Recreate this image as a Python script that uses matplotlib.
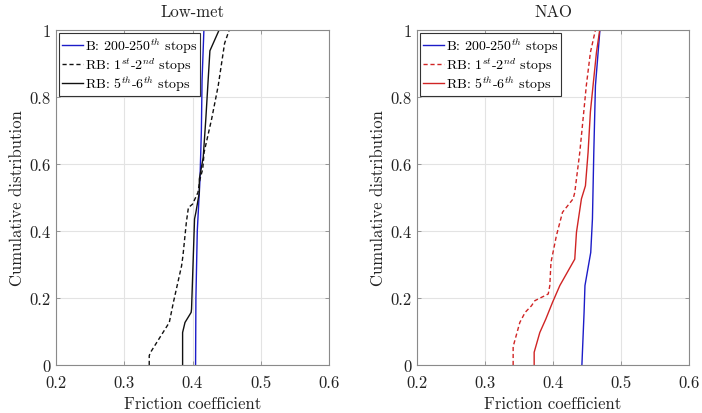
import matplotlib
matplotlib.use("Agg")
import matplotlib.pyplot as plt

plt.rcParams['font.family'] = ['cmr10']
plt.rcParams['mathtext.fontset'] = 'cm'
plt.rcParams['axes.formatter.use_mathtext'] = True

# ---------------- data ----------------
titles = ["Low-met", "NAO"]
labels = ["B: 200-250$^{th}$ stops", "RB: 1$^{st}$-2$^{nd}$ stops", "RB: 5$^{th}$-6$^{th}$ stops"]
xticks = [0.2, 0.3, 0.4, 0.5, 0.6]
xticklabels = ["0.2", "0.3", "0.4", "0.5", "0.6"]
yticks = [0, 0.2, 0.4, 0.6, 0.8, 1.0]
yticklabels = ["0", "0.2", "0.4", "0.6", "0.8", "1"]

# Low-met
lm_b_x = [0.4045, 0.405, 0.407, 0.411, 0.413, 0.414, 0.4167]
lm_b_y = [0.0, 0.2, 0.4, 0.555, 0.7, 0.85, 1.0]
lm_rb12_x = [0.3366, 0.3366, 0.3386, 0.366, 0.372, 0.384, 0.386, 0.391, 0.394, 0.400, 0.408,
             0.411, 0.415, 0.417, 0.428, 0.4377, 0.445, 0.447, 0.4538]
lm_rb12_y = [0.0, 0.028, 0.038, 0.127, 0.187, 0.296, 0.326, 0.426, 0.47, 0.48, 0.515,
             0.555, 0.585, 0.635, 0.734, 0.834, 0.933, 0.96, 1.0]
lm_rb56_x = [0.3855, 0.3855, 0.389, 0.398, 0.3986, 0.403, 0.405, 0.41, 0.41, 0.4157, 0.4195, 0.4255, 0.439]
lm_rb56_y = [0.0, 0.097, 0.127, 0.157, 0.167, 0.436, 0.456, 0.515, 0.555, 0.62, 0.734, 0.938, 1.0]

# NAO
nao_b_x = [0.4425, 0.4457, 0.447, 0.4555, 0.458, 0.46, 0.4624, 0.469]
nao_b_y = [0.0, 0.157, 0.237, 0.336, 0.436, 0.635, 0.834, 1.0]
nao_rb12_x = [0.3414, 0.3414, 0.3425, 0.3512, 0.359, 0.3684, 0.3733, 0.393, 0.3953, 0.397, 0.400,
              0.405, 0.414, 0.4296, 0.432, 0.4394, 0.4442, 0.449, 0.455, 0.4624]
nao_rb12_y = [0.0, 0.058, 0.063, 0.127, 0.157, 0.177, 0.192, 0.212, 0.237, 0.306, 0.336,
              0.386, 0.456, 0.496, 0.515, 0.635, 0.734, 0.834, 0.933, 1.0]
nao_rb56_x = [0.3723, 0.3723, 0.3806, 0.3894, 0.3993, 0.41, 0.432, 0.4345, 0.4418, 0.4477,
              0.4516, 0.455, 0.4589, 0.4639, 0.4687]
nao_rb56_y = [0.0, 0.038, 0.097, 0.137, 0.187, 0.237, 0.316, 0.396, 0.496, 0.535,
              0.635, 0.756, 0.834, 0.933, 1.0]

BLUE = "#1c1cc8"
RED = "#d02424"
BLACK = "#111111"

panels = [
    [(lm_b_x, lm_b_y, BLUE, "-"), (lm_rb12_x, lm_rb12_y, BLACK, "--"), (lm_rb56_x, lm_rb56_y, BLACK, "-")],
    [(nao_b_x, nao_b_y, BLUE, "-"), (nao_rb12_x, nao_rb12_y, RED, "--"), (nao_rb56_x, nao_rb56_y, RED, "-")],
]

fig = plt.figure(figsize=(7.02, 4.14), dpi=100)
W, H = 702, 414
ax_rects = [(56, 31, 273, 335), (417, 31, 272, 335)]

for i, (rect, series) in enumerate(zip(ax_rects, panels)):
    l, t, w, h = rect
    ax = fig.add_axes([l / W, 1 - (t + h) / H, w / W, h / H])
    for (xs, ys, c, ls), lab in zip(series, labels):
        kw = dict(color=c, lw=1.0, label=lab)
        if ls == "--":
            kw["dashes"] = (3, 2)
        ax.plot(xs, ys, ls, **kw)
    ax.set_xlim(0.2, 0.6)
    ax.set_ylim(0, 1)
    ax.set_xticks(xticks)
    ax.set_xticklabels(xticklabels)
    ax.set_yticks(yticks)
    ax.set_yticklabels(yticklabels)
    ax.grid(True, color="#e3e3e3", lw=0.8)
    ax.set_axisbelow(True)
    for s in ax.spines.values():
        s.set_color("#8a8a8a")
        s.set_linewidth(0.8)
    ax.tick_params(direction="in", length=3, width=0.6, color="#8a8a8a",
                   top=True, right=True, labelsize=12, labelcolor="#222222")
    ax.tick_params(axis="x", pad=7)
    ax.tick_params(axis="y", pad=4)
    ax.set_xlabel("Friction coefficient", fontsize=12, color="#222222", labelpad=4)
    ax.set_ylabel("Cumulative distribution", fontsize=12, color="#222222", labelpad=3)
    ax.set_title(titles[i], fontsize=12, color="#222222", pad=10)
    leg = ax.legend(loc="upper left", bbox_to_anchor=(3 / w, 1 - 3 / h), borderaxespad=0,
                    fontsize=10, frameon=True, fancybox=False, handlelength=1.5,
                    handletextpad=0.15, borderpad=0.2, labelspacing=0.0)
    fr = leg.get_frame()
    fr.set_edgecolor("#333333")
    fr.set_linewidth(0.8)
    fr.set_alpha(1)

fig.savefig("out.png", dpi=100)
